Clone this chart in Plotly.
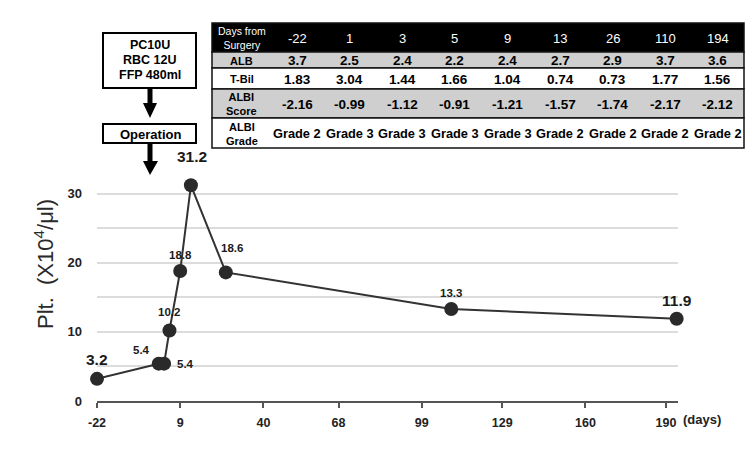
import plotly.graph_objects as go

# ---------------- data ----------------
days = [-22, 1, 3, 5, 9, 13, 26, 110, 194]
plt_values = [3.2, 5.4, 5.4, 10.2, 18.8, 31.2, 18.6, 13.3, 11.9]
x_tickvals = [-22, 9, 40, 68, 99, 129, 160, 190]
y_tickvals = [0, 10, 20, 30]
y_gridvals = [5, 15, 25, 35]

table_days = ["-22", "1", "3", "5", "9", "13", "26", "110", "194"]
alb = ["3.7", "2.5", "2.4", "2.2", "2.4", "2.7", "2.9", "3.7", "3.6"]
tbil = ["1.83", "3.04", "1.44", "1.66", "1.04", "0.74", "0.73", "1.77", "1.56"]
albi_score = ["-2.16", "-0.99", "-1.12", "-0.91", "-1.21", "-1.57", "-1.74", "-2.17", "-2.12"]
albi_grade = ["Grade 2", "Grade 3", "Grade 3", "Grade 3", "Grade 3",
              "Grade 2", "Grade 2", "Grade 2", "Grade 2"]
row_labels = ["Days from<br>Surgery", "ALB", "T-Bil", "ALBI<br>Score", "ALBI<br>Grade"]
box1_lines = ["PC10U", "RBC 12U", "FFP 480ml"]
box2_text = "Operation"

# label styling per point: (xshift, yshift, size)
label_style = [(0, 19, 15.5), (-17, 14, 11.5), (21, 0, 11.5), (0, 18, 11.5), (0, 16, 11.5),
               (1, 29, 15.5), (6, 24, 11.5), (0, 16, 11.5), (0, 18, 15.5)]

# ---------------- layout geometry (pixels) ----------------
W, H = 750, 454
PL, PR, PT, PB = 97, 678, 159, 401
FONT = "Liberation Sans, Arial, Helvetica, sans-serif"


def px(x):
    return (x - PL) / (PR - PL)


def py(y):
    return (PB - y) / (PB - PT)


fig = go.Figure()
fig.add_trace(go.Scatter(
    x=days, y=plt_values, mode="lines+markers",
    line=dict(color="#333333", width=2),
    marker=dict(color="#2a2a2a", size=14),
    cliponaxis=False, hoverinfo="skip", showlegend=False,
))

shapes = []
annotations = []

# data labels
for d, v, (xs, ys, sz) in zip(days, plt_values, label_style):
    annotations.append(dict(
        x=d, y=v, xref="x", yref="y", text=f"<b>{v}</b>", showarrow=False,
        xshift=xs, yshift=ys, font=dict(family=FONT, size=sz, color="#1a1a1a"),
        xanchor="center", yanchor="middle"))

# y-axis title
annotations.append(dict(
    x=px(44), y=py(264), xref="paper", yref="paper",
    text="Plt.  (X10<sup>4</sup>/μl)", textangle=-90, showarrow=False,
    font=dict(family=FONT, size=22, color="#2a2a2a"),
    xanchor="center", yanchor="middle"))

# (days)
annotations.append(dict(
    x=px(702), y=py(419), xref="paper", yref="paper", text="<b>(days)</b>",
    showarrow=False, font=dict(family=FONT, size=13, color="#222222"),
    xanchor="center", yanchor="middle"))

# ---------------- flow boxes & arrows ----------------
def rect(x0, y0, x1, y1, fill="white", line_color="black", lw=2):
    shapes.append(dict(type="rect", xref="paper", yref="paper",
                       x0=px(x0), x1=px(x1), y0=py(y1), y1=py(y0),
                       fillcolor=fill, line=dict(color=line_color, width=lw), layer="above"))


def tri(pts):
    path = "M " + " L ".join(f"{px(a)},{py(b)}" for a, b in pts) + " Z"
    shapes.append(dict(type="path", xref="paper", yref="paper", path=path,
                       fillcolor="black", line=dict(color="black", width=0), layer="above"))


rect(103, 33, 196, 88)
for i, t in enumerate(box1_lines):
    annotations.append(dict(x=px(150), y=py(45 + i * 15), xref="paper", yref="paper",
                            text=f"<b>{t}</b>", showarrow=False,
                            font=dict(family=FONT, size=12.5, color="black"),
                            xanchor="center", yanchor="middle"))
rect(147.5, 88, 152.5, 104, fill="black", lw=0)
tri([(143, 103), (157, 103), (150, 118)])

rect(103, 124, 196, 143)
annotations.append(dict(x=px(150), y=py(134), xref="paper", yref="paper",
                        text=f"<b>{box2_text}</b>", showarrow=False,
                        font=dict(family=FONT, size=13, color="black"),
                        xanchor="center", yanchor="middle"))
rect(147.5, 143, 152.5, 162, fill="black", lw=0)
tri([(143, 161), (158, 161), (150, 175)])

# ---------------- table ----------------
TL, TR = 212, 744
LABW = 59
row_edges = [23, 52, 68, 89, 118, 148]
row_fills = ["black", "#cfcfcf", "white", "#cfcfcf", "white"]
row_sizes = [13, 13.5, 13.5, 13.5, 12.8]
ncol = len(table_days)
colw = (TR - TL - LABW) / ncol
rows = [table_days, alb, tbil, albi_score, albi_grade]

for r in range(5):
    shapes.append(dict(type="rect", xref="paper", yref="paper",
                       x0=px(TL), x1=px(TR), y0=py(row_edges[r + 1]), y1=py(row_edges[r]),
                       fillcolor=row_fills[r], line=dict(color="#111111", width=1.5),
                       layer="above"))
for r in range(5):
    yc = (row_edges[r] + row_edges[r + 1]) / 2
    header = r == 0
    col = "white" if header else "black"
    lab = row_labels[r]
    annotations.append(dict(
        x=px(TL + LABW / 2), y=py(yc + 0.5), xref="paper", yref="paper",
        text=lab if header else f"<b>{lab}</b>", showarrow=False,
        font=dict(family=FONT, size=10.5 if header else 11, color=col),
        xanchor="center", yanchor="middle"))
    for c in range(ncol):
        xc = TL + LABW + colw * (c + 0.5)
        val = rows[r][c]
        annotations.append(dict(
            x=px(xc), y=py(yc + 0.5), xref="paper", yref="paper",
            text=val if header else f"<b>{val}</b>", showarrow=False,
            font=dict(family=FONT, size=row_sizes[r], color=col),
            xanchor="center", yanchor="middle"))

fig.update_layout(
    width=W, height=H,
    margin=dict(l=PL, r=W - PR, t=PT, b=H - PB, pad=0),
    paper_bgcolor="white", plot_bgcolor="white",
    font=dict(family=FONT, color="#222222"),
    shapes=shapes, annotations=annotations,
    xaxis=dict(range=[-22, 194.5], tickvals=x_tickvals,
               ticktext=[f"<b>{v}</b>" for v in x_tickvals],
               tickfont=dict(family=FONT, size=12.5, color="#222222"),
               showline=True, linecolor="#555555", linewidth=2,
               ticks="outside", ticklen=5, tickwidth=1.5, tickcolor="#555555",
               showgrid=False, zeroline=False, ticklabelstandoff=4),
    yaxis=dict(range=[0, 35], tickvals=y_tickvals,
               ticktext=[f"<b>{t}</b>" for t in y_tickvals],
               tickfont=dict(family=FONT, size=13, color="#222222"),
               showline=False, ticks="", showgrid=True, gridcolor="#dcdcdc",
               gridwidth=1.5, zeroline=False, ticklabelstandoff=14,
               minor=dict(tickvals=y_gridvals, showgrid=True, gridcolor="#dcdcdc",
                          gridwidth=1.5, ticks="")),
)

fig.write_html("out.html")
